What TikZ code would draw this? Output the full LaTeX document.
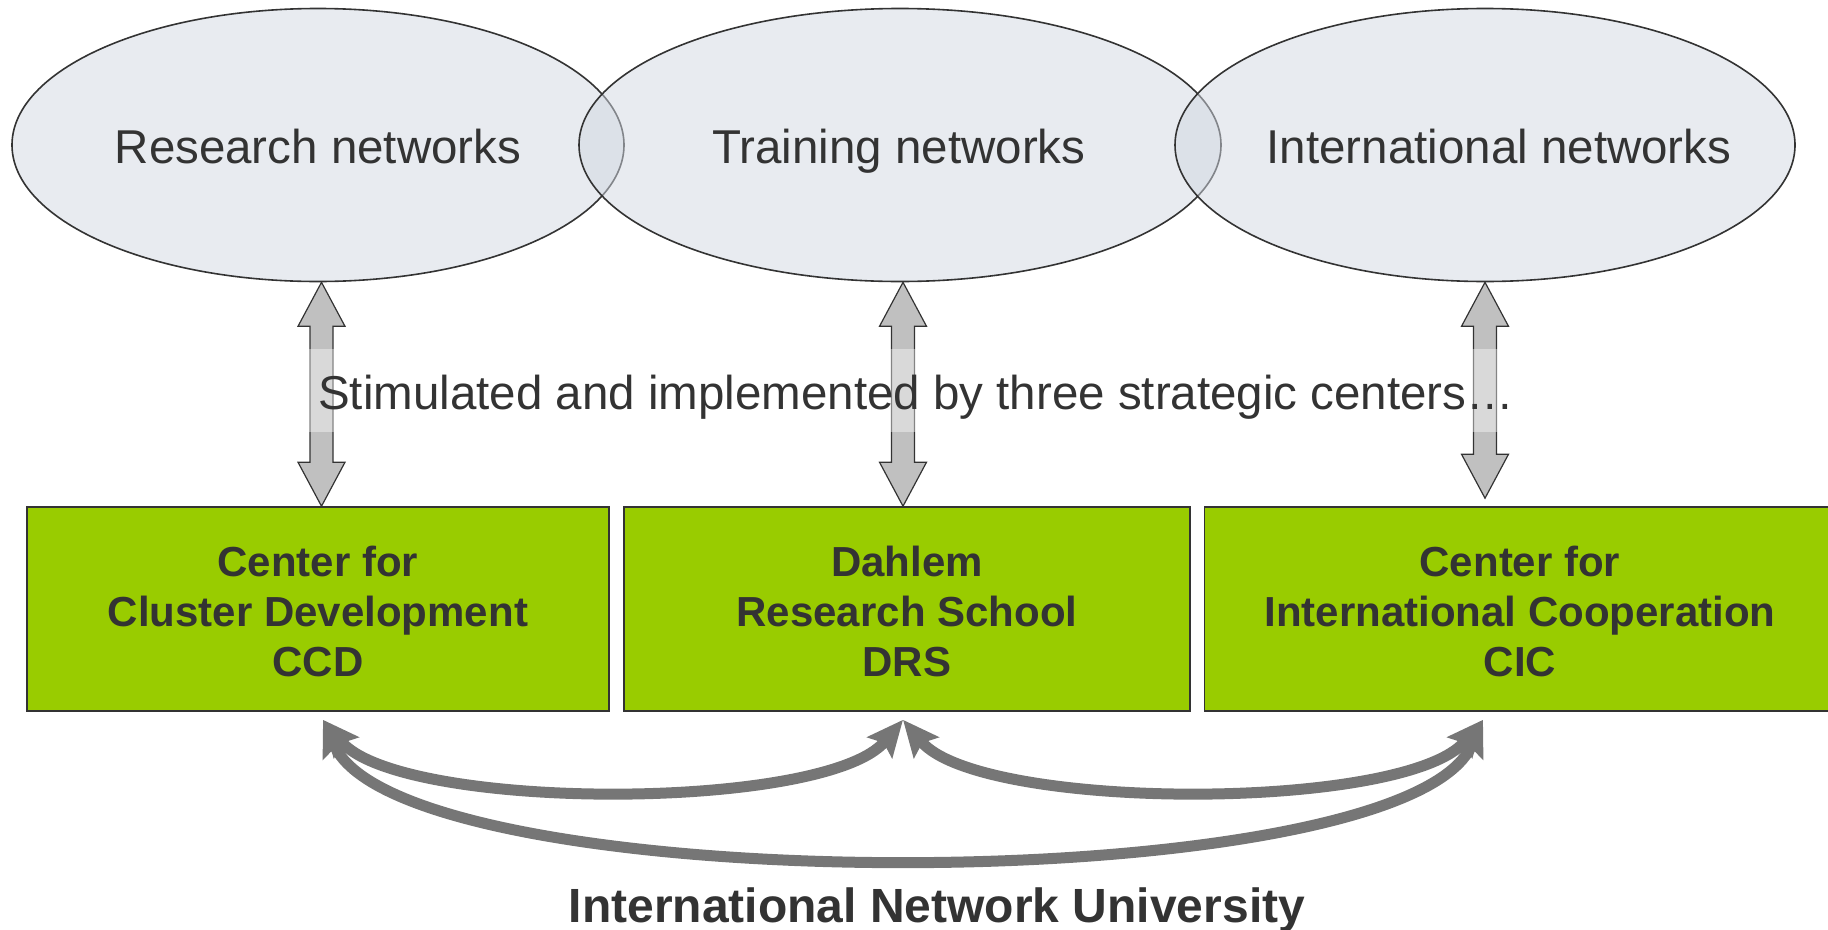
\documentclass[tikz,border=0pt]{standalone}
\usepackage{fontspec}
\setmainfont{Liberation Sans}
\usetikzlibrary{shapes.geometric,arrows.meta,calc}
\definecolor{txt}{HTML}{333333}
\definecolor{ellfill}{HTML}{D1D7E1}
\definecolor{boxgreen}{HTML}{99CC00}
\definecolor{barrow}{HTML}{C0C0C0}
\definecolor{carrow}{HTML}{767676}
\definecolor{edge}{HTML}{333333}
\newcommand{\vblock}[2]{%
  \draw[blockarrow] let \p1=(#1), \p2=(#2) in
    (\x1,\y1) -- (\x1+23.5pt,\y1-44pt) -- (\x1+11.5pt,\y1-44pt) --
    (\x1+11.5pt,\y2+44pt) -- (\x1+23.5pt,\y2+44pt) -- (\x1,\y2) --
    (\x1-23.5pt,\y2+44pt) -- (\x1-11.5pt,\y2+44pt) --
    (\x1-11.5pt,\y1-44pt) -- (\x1-23.5pt,\y1-44pt) -- cycle;}
\begin{document}
\begin{tikzpicture}[x=1pt,y=-1pt,
  net/.style={ellipse, draw=edge, line width=1.6pt, fill=ellfill, fill opacity=0.5, inner sep=0pt, minimum height=273pt},
  netlabel/.style={text=txt, font=\fontsize{47.5}{55}\selectfont, anchor=base, inner sep=0pt},
  unitbox/.style={rectangle, draw=edge, line width=1.6pt, fill=boxgreen, minimum height=204pt, align=center, text=txt, font=\fontsize{42}{50}\selectfont\bfseries, inner sep=0pt},
  blockarrow/.style={draw=edge, line width=1.2pt, fill=barrow, line join=miter},
  link/.style={draw=carrow, line width=11pt, {Stealth[length=36pt,width=32pt,inset=6pt]}-{Stealth[length=36pt,width=32pt,inset=6pt]}},
]
\clip (0,0) rectangle (1828,929);

\node[net, minimum width=612pt] (e1) at (318,145) {};
\node[net, minimum width=642pt] (e2) at (900,145) {};
\node[net, minimum width=620pt] (e3) at (1485,145) {};

\node[netlabel] (l1) at (318,163) {Research networks};
\node[netlabel] (l2) at (899,163) {Training networks};
\node[netlabel] (l3) at (1499,163) {International networks};

\node[unitbox, minimum width=582pt] (b1) at (318,609) {};
\node[unitbox, minimum width=566pt] (b2) at (907,609) {};
\node[unitbox, minimum width=631pt] (b3) at (1520,609) {};
\node[unitbox, draw=none, fill=none, minimum width=0pt, minimum height=0pt] (t1x) at ($(b1.center)+(0,2)$) {Center for\\Cluster Development\\CCD};
\node[unitbox, draw=none, fill=none, minimum width=0pt, minimum height=0pt] (t2x) at ($(b2.center)+(0,2)$) {Dahlem\\Research School\\DRS};
\node[unitbox, draw=none, fill=none, minimum width=0pt, minimum height=0pt] (t3x) at ($(b3.center)+(0,2)$) {Center for\\International Cooperation\\CIC};

\coordinate (t1) at ($(e1.south)+(3.5,0)$);
\coordinate (u1) at (t1 |- b1.north);
\coordinate (t2) at ($(e2.south)+(3,0)$);
\coordinate (u2) at (t2 |- b2.north);
\coordinate (t3) at (e3.south);
\coordinate (u3) at ($(t3 |- b3.north)+(0,-8)$);
\vblock{t1}{u1}
\vblock{t2}{u2}
\vblock{t3}{u3}

\node[text=txt, font=\fontsize{47.5}{55}\selectfont, anchor=base west, fill=white, fill opacity=0.4, text opacity=1, inner xsep=12pt, inner ysep=0pt, text height=60pt, text depth=23pt] (stim) at (306,409) {Stimulated and implemented by three strategic centers…};

\coordinate (p1) at ($(b1.south)+(5,8)$);
\coordinate (p2) at ($(b2.south)+(-4,8)$);
\coordinate (p3) at ($(b3.south)+(-37,8)$);
\draw[link] (p1) .. controls +(77,92) and +(-77,92) .. (p2);
\draw[link] (p2) .. controls +(77,92) and +(-77,92) .. (p3);
\draw[link] (p1) .. controls +(81,182) and +(-81,182) .. (p3);

\node[text=txt, font=\fontsize{48}{56}\selectfont\bfseries, anchor=base, inner sep=0pt] (inu) at (937,922) {International Network University};
\end{tikzpicture}
\end{document}
